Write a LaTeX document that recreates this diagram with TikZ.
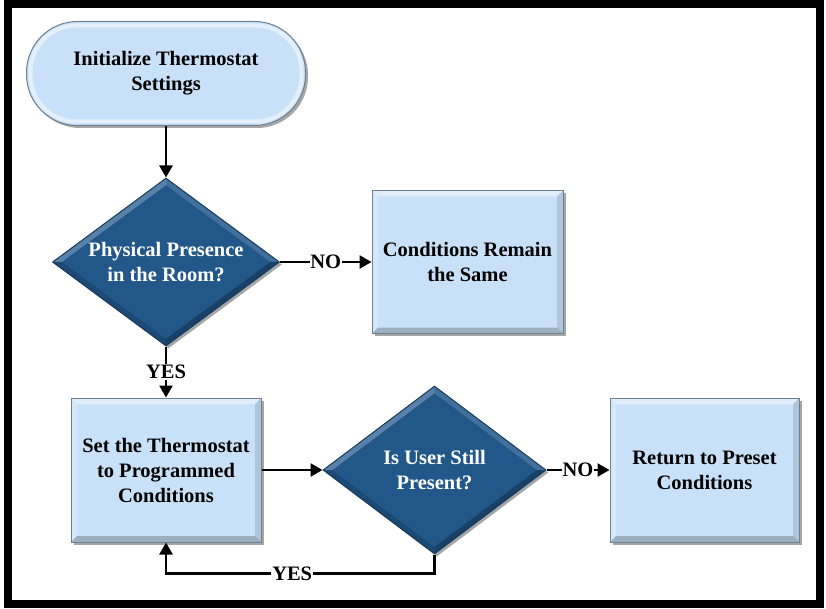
\documentclass[tikz,border=0pt]{standalone}
\usepackage{fontspec}
\setmainfont{Liberation Serif}
\usetikzlibrary{shapes.geometric,arrows.meta,shadows}
\definecolor{lightfill}{HTML}{C8E1F8}
\definecolor{lightedge}{HTML}{6F7F8F}
\definecolor{darkfill}{HTML}{22578A}
\definecolor{darkedge}{HTML}{173B5E}
\begin{document}
\begin{tikzpicture}[x=1pt,y=-1pt,
  font=\fontsize{20.5}{25}\selectfont\bfseries,
  shade/.style={drop shadow={shadow xshift=2.5pt,shadow yshift=-2.5pt,opacity=0.35,fill=black}},
  rectbevel/.style={path picture={
    \fill[white,opacity=0.45] (path picture bounding box.north west) -- (path picture bounding box.north east)
      -- ([xshift=-6pt,yshift=-6pt]path picture bounding box.north east) -- ([xshift=6pt,yshift=-6pt]path picture bounding box.north west) -- cycle;
    \fill[white,opacity=0.25] (path picture bounding box.north west) -- (path picture bounding box.south west)
      -- ([xshift=6pt,yshift=6pt]path picture bounding box.south west) -- ([xshift=6pt,yshift=-6pt]path picture bounding box.north west) -- cycle;
    \fill[black,opacity=0.22] (path picture bounding box.south west) -- (path picture bounding box.south east)
      -- ([xshift=-6pt,yshift=6pt]path picture bounding box.south east) -- ([xshift=6pt,yshift=6pt]path picture bounding box.south west) -- cycle;
    \fill[black,opacity=0.12] (path picture bounding box.north east) -- (path picture bounding box.south east)
      -- ([xshift=-6pt,yshift=6pt]path picture bounding box.south east) -- ([xshift=-6pt,yshift=-6pt]path picture bounding box.north east) -- cycle;
  }},
  diabevel/.style={path picture={
    \fill[white,opacity=0.25] (path picture bounding box.west) -- (path picture bounding box.north)
      -- ([yshift=-7pt]path picture bounding box.north) -- ([xshift=9pt]path picture bounding box.west) -- cycle;
    \fill[white,opacity=0.15] (path picture bounding box.north) -- (path picture bounding box.east)
      -- ([xshift=-9pt]path picture bounding box.east) -- ([yshift=-7pt]path picture bounding box.north) -- cycle;
    \fill[black,opacity=0.25] (path picture bounding box.east) -- (path picture bounding box.south)
      -- ([yshift=7pt]path picture bounding box.south) -- ([xshift=-9pt]path picture bounding box.east) -- cycle;
    \fill[black,opacity=0.15] (path picture bounding box.south) -- (path picture bounding box.west)
      -- ([xshift=9pt]path picture bounding box.west) -- ([yshift=7pt]path picture bounding box.south) -- cycle;
  }},
  terminal/.style={rectangle,rounded corners=51pt,fill=lightfill,draw=lightedge,line width=1pt,
    minimum width=279pt,minimum height=104pt,align=center,inner sep=0pt,shade,
    path picture={\draw[white,opacity=0.5,line width=4pt,rounded corners=46pt]
      ([xshift=4pt,yshift=-4pt]path picture bounding box.north west) rectangle ([xshift=-4pt,yshift=4pt]path picture bounding box.south east);}},
  lightbox/.style={rectangle,fill=lightfill,draw=lightedge,line width=1pt,
    minimum width=190pt,minimum height=144pt,align=center,inner sep=0pt,shade,rectbevel},
  decision/.style={diamond,aspect=1.35,inner sep=0pt,align=center,fill=darkfill,draw=darkedge,
    line width=1pt,text=white,shade,diabevel},
  flow/.style={line width=2.6pt,-{Triangle[length=12pt,width=13pt]}},
  lab/.style={fill=white,inner sep=0.8pt,text=black}]
\useasboundingbox (0,0) rectangle (826,609);
\draw[line width=8pt] (8,4) rectangle (820,604);

\node[terminal] (start) at (166,73.5) {Initialize Thermostat\\Settings};
\node[decision,minimum width=227pt,minimum height=168pt] (d1) at (166,262) {Physical Presence\\in the Room?};
\node[lightbox,minimum width=191pt,minimum height=143pt] (same) at (467.5,262) {Conditions Remain\\the Same};
\node[lightbox] (set) at (166,470) {Set the Thermostat\\to Programmed\\Conditions};
\node[decision,minimum width=223pt,minimum height=168pt] (d2) at (434.5,470) {Is User Still\\Present?};
\node[lightbox,minimum width=189pt] (ret) at (704.5,470) {Return to Preset\\Conditions};

\draw[flow] (start.south) -- (d1.north);
\draw[flow] (d1.east) -- node[lab]{NO} (same.west);
\draw[flow] (d1.south) -- node[lab]{YES} (set.north);
\draw[flow] (set.east) -- (d2.west);
\draw[flow] (d2.east) -- node[lab]{NO} (ret.west);
\draw[flow] (d2.south) -- ++(0,19) coordinate (loop) -- node[lab,pos=0.53]{YES} (loop -| set.south) -- (set.south);
\end{tikzpicture}
\end{document}
